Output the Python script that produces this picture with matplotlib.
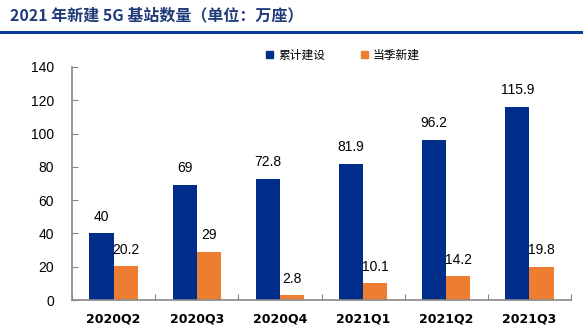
import numpy as np
import matplotlib.pyplot as plt
from matplotlib.patches import Patch

plt.rcParams['font.family'] = ['Noto Sans CJK SC', 'DejaVu Sans']

quarters = ['2020Q2', '2020Q3', '2020Q4', '2021Q1', '2021Q2', '2021Q3']
total_built = [40, 69, 72.8, 81.9, 96.2, 115.9]
new_built = [20.2, 29, 2.8, 10.1, 14.2, 19.8]
series_names = ['累计建设', '当季新建']

blue = '#002D8A'
orange = '#ED7D31'
num_font = 'Liberation Sans'

fig = plt.figure(figsize=(5.83, 3.33), dpi=100)
ax = fig.add_axes([0.1235, 0.099, 0.856, 0.700])

x = np.arange(len(quarters))
w = 0.29
b1 = ax.bar(x - w / 2, total_built, w, color=blue)
b2 = ax.bar(x + w / 2, new_built, w, color=orange)

# value labels above every bar
for bars, vals in ((b1, total_built), (b2, new_built)):
    for r, v in zip(bars, vals):
        ax.annotate(f'{v:g}', (r.get_x() + r.get_width() / 2, v),
                    xytext=(0, 12), textcoords='offset points',
                    ha='center', va='center', fontsize=10, family=num_font)

ax.set_xlim(-0.5, len(quarters) - 0.5)
ax.set_ylim(0, 140)
ax.set_yticks(range(0, 141, 20))
# group separators as major ticks, names on minor ticks
ax.set_xticks(np.arange(-0.5, len(quarters), 1))
ax.set_xticklabels([])
ax.set_xticks(x, minor=True)
ax.set_xticklabels(quarters, minor=True, fontweight='bold', fontsize=9,
                   family='DejaVu Sans')
ax.tick_params(axis='x', which='minor', length=0, pad=9)
ax.tick_params(axis='x', which='major', direction='in', length=4, color='#888888')
ax.tick_params(axis='y', direction='in', length=4, color='#888888',
               labelsize=10, pad=13)
for lbl in ax.get_yticklabels():
    lbl.set_family(num_font)

for s in ('top', 'right'):
    ax.spines[s].set_visible(False)
for s in ('left', 'bottom'):
    ax.spines[s].set_color('#888888')
    ax.spines[s].set_linewidth(1.2)

handles = [Patch(color=blue), Patch(color=orange)]
fig.legend(handles, series_names, loc='center', bbox_to_anchor=(0.588, 0.835),
           ncol=2, frameon=False, fontsize=8.5, handlelength=0.6, handleheight=0.6,
           handletextpad=0.4, columnspacing=3.0)

fig.text(0.017, 0.955, '2021 年新建 5G 基站数量（单位：万座）', fontsize=11.5,
         fontweight='bold', color='#1F3A78', va='center', ha='left')
fig.add_artist(plt.Line2D([0, 1], [0.904, 0.904], color='#0A3A9A', lw=2.2,
                          transform=fig.transFigure))

fig.savefig('out.png', dpi=100)
